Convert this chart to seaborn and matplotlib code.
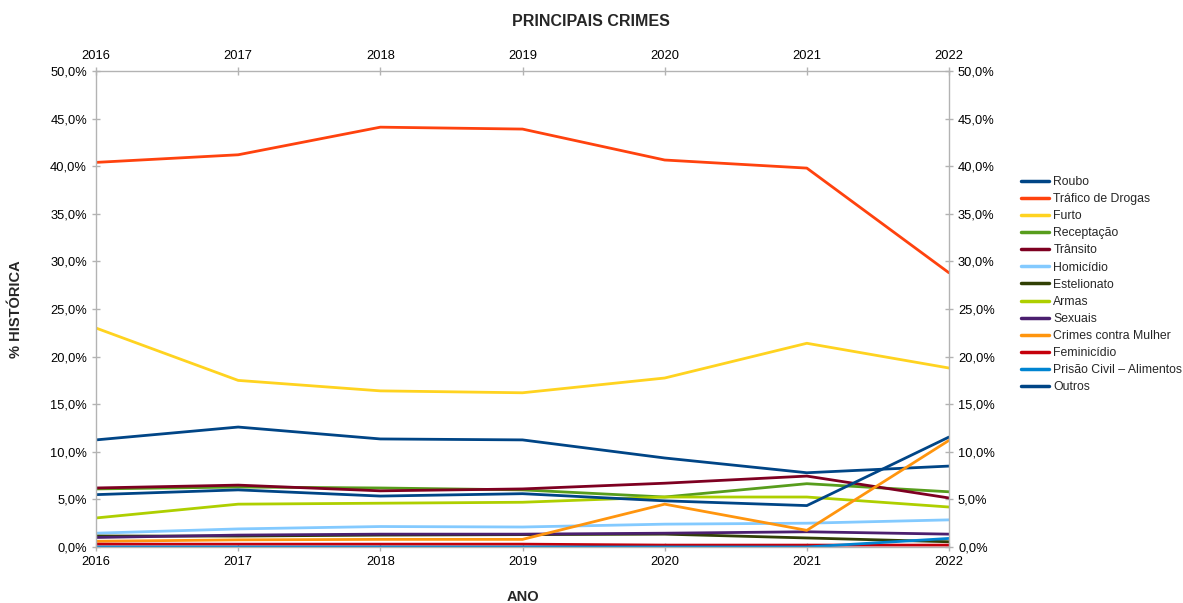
import matplotlib
matplotlib.use("Agg")
import matplotlib.pyplot as plt
from matplotlib.ticker import FuncFormatter
import seaborn as sns
import pandas as pd

anos = [2016, 2017, 2018, 2019, 2020, 2021, 2022]
roubo = [11.25, 12.6, 11.35, 11.25, 9.35, 7.8, 8.5]
trafico = [40.4, 41.2, 44.1, 43.9, 40.65, 39.8, 28.8]
furto = [23.0, 17.5, 16.4, 16.2, 17.75, 21.4, 18.8]
receptacao = [6.1, 6.3, 6.2, 6.0, 5.25, 6.65, 5.8]
transito = [6.2, 6.5, 5.9, 6.1, 6.7, 7.45, 5.15]
homicidio = [1.45, 1.9, 2.15, 2.1, 2.4, 2.5, 2.85]
estelionato = [1.15, 1.15, 1.25, 1.3, 1.35, 0.95, 0.55]
armas = [3.05, 4.5, 4.6, 4.7, 5.25, 5.25, 4.2]
sexuais = [1.0, 1.25, 1.35, 1.35, 1.45, 1.6, 1.35]
mulher = [0.6, 0.75, 0.8, 0.8, 4.5, 1.75, 11.2]
feminicidio = [0.3, 0.3, 0.3, 0.3, 0.2, 0.2, 0.2]
prisao = [0.0, 0.0, 0.0, 0.0, 0.0, 0.0, 0.9]
outros = [5.5, 6.0, 5.35, 5.6, 4.85, 4.35, 11.55]

series = {
    "Roubo": roubo,
    "Tráfico de Drogas": trafico,
    "Furto": furto,
    "Receptação": receptacao,
    "Trânsito": transito,
    "Homicídio": homicidio,
    "Estelionato": estelionato,
    "Armas": armas,
    "Sexuais": sexuais,
    "Crimes contra Mulher": mulher,
    "Feminicídio": feminicidio,
    "Prisão Civil – Alimentos": prisao,
    "Outros": outros,
}
cores = ["#004586", "#ff420e", "#ffd320", "#579d1c", "#7e0021", "#83caff",
         "#314004", "#aecf00", "#4b1f6f", "#ff950e", "#c5000b", "#0084d1", "#004586"]

rows = []
for nome, vals in series.items():
    for a, v in zip(anos, vals):
        rows.append({"Ano": a, "Valor": v, "Crime": nome})
df = pd.DataFrame(rows)

sns.set_theme(style="white")
plt.rcParams['font.family'] = ['Liberation Sans', 'DejaVu Sans']

fig = plt.figure(figsize=(11.83, 6.03), dpi=100)
ax = fig.add_axes([96/1183, 1 - 547/603, (949-96)/1183, (547-71)/603])

sns.lineplot(data=df, x="Ano", y="Valor", hue="Crime", palette=cores,
             hue_order=list(series.keys()), linewidth=2.0, ax=ax, legend=True)

ax.set_xlim(2016, 2022)
ax.set_ylim(0, 50)
ax.set_xticks(anos)
ax.set_yticks(range(0, 51, 5))
fmt = FuncFormatter(lambda v, p: f"{v:.1f}%".replace(".", ","))
ax.yaxis.set_major_formatter(fmt)
ax.tick_params(axis="both", labelsize=9.3, colors="#b3b3b3", labelcolor="black",
               direction="inout", length=6, width=1.0,
               left=True, right=True, bottom=True, top=True,
               labelright=True, labeltop=True)
for s in ax.spines.values():
    s.set_color("#b3b3b3")
    s.set_linewidth(1.0)

ax.set_xlabel("")
ax.set_ylabel("")
fig.text((96+949)/2/1183, 1 - 597/603, "ANO", ha="center", va="center",
         fontsize=10.5, fontweight="bold")
fig.text(16/1183, 1 - 309/603, "% HISTÓRICA", ha="center", va="center",
         rotation=90, fontsize=10.5, fontweight="bold")
fig.text(591/1183, 1 - 21/603, "PRINCIPAIS CRIMES", ha="center", va="center",
         fontsize=11.5, fontweight="bold")

leg = ax.legend(loc="upper left", bbox_to_anchor=(1016/1183, 1 - 171/603),
                bbox_transform=fig.transFigure, frameon=False, fontsize=8.8,
                handlelength=2.3, handletextpad=0.35, labelspacing=0.42,
                borderaxespad=0)
for h in leg.get_lines():
    h.set_linewidth(2.5)

fig.savefig("out.png", dpi=100)
